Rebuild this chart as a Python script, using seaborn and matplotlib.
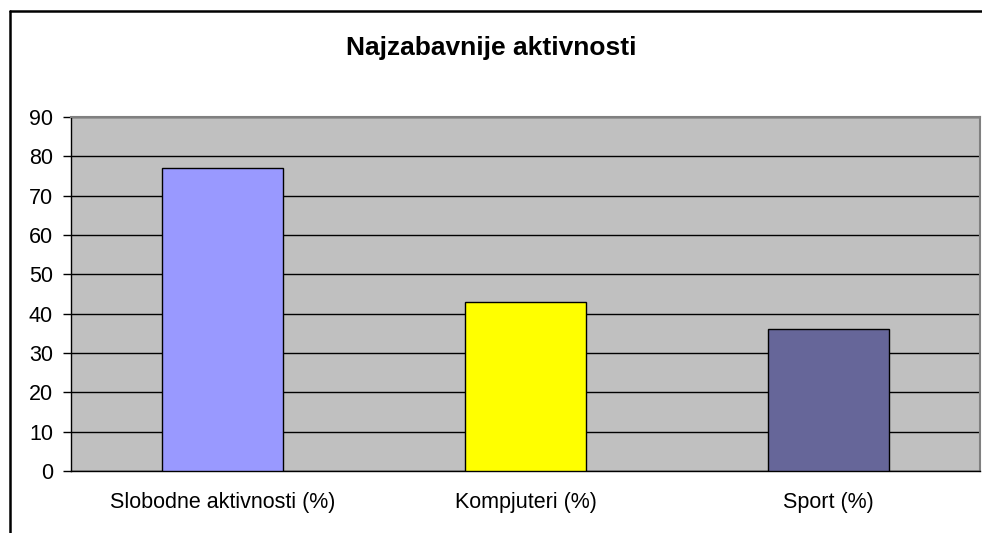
import matplotlib
matplotlib.use("Agg")
import matplotlib.pyplot as plt
import seaborn as sns
import pandas as pd
from matplotlib.lines import Line2D

# Data
categories = ['Slobodne aktivnosti (%)', 'Kompjuteri (%)', 'Sport (%)']
values = [77, 43, 36]
bar_colors = ['#9999FF', '#FFFF00', '#666699']

sns.set_theme(style="white")
plt.rcParams['font.family'] = ['Liberation Sans', 'DejaVu Sans']

df = pd.DataFrame({'category': categories, 'value': values})

fig = plt.figure(figsize=(9.82, 5.33), dpi=100)
ax = fig.add_axes([71 / 982, 1 - 471 / 533, 909 / 982, 354 / 533])
ax.set_facecolor('#C0C0C0')

sns.barplot(data=df, x='category', y='value', hue='category', palette=bar_colors,
            saturation=1, width=0.4, edgecolor='black', linewidth=1, legend=False, ax=ax)

ax.set_xlim(-0.5, 2.5)
ax.set_ylim(0, 90)
ax.set_yticks(range(0, 91, 10))
ax.yaxis.grid(True, color='black', linewidth=1)
ax.set_axisbelow(True)
for b in ax.patches:
    b.set_zorder(3)

# category ticks between groups
ax.set_xticks([-0.5, 0.5, 1.5, 2.5], minor=True)
ax.tick_params(axis='x', which='major', length=0, pad=15, labelsize=15.5, colors='black')
ax.tick_params(axis='x', which='minor', length=6, width=1, color='black', direction='out')
ax.tick_params(axis='y', length=6, width=1, color='black', direction='out', pad=7,
               labelsize=15.5, colors='black', left=True)
ax.set_xlabel('')
ax.set_ylabel('')

for s in ['left', 'bottom']:
    ax.spines[s].set_color('black')
    ax.spines[s].set_linewidth(1)
for s in ['top', 'right']:
    ax.spines[s].set_color('#808080')
    ax.spines[s].set_linewidth(1.5)

fig.text(0.5, 1 - 48 / 533, 'Najzabavnije aktivnosti', ha='center', va='center',
         fontsize=19, fontweight='bold', color='black')

# outer chart frame (left and top edges only)
fx, fy = 10 / 982, 1 - 11 / 533
fig.lines.append(Line2D([fx, fx], [0, fy], transform=fig.transFigure, color='black', linewidth=1.8))
fig.lines.append(Line2D([fx, 1], [fy, fy], transform=fig.transFigure, color='black', linewidth=1.8))

plt.savefig('out.png', dpi=100)
